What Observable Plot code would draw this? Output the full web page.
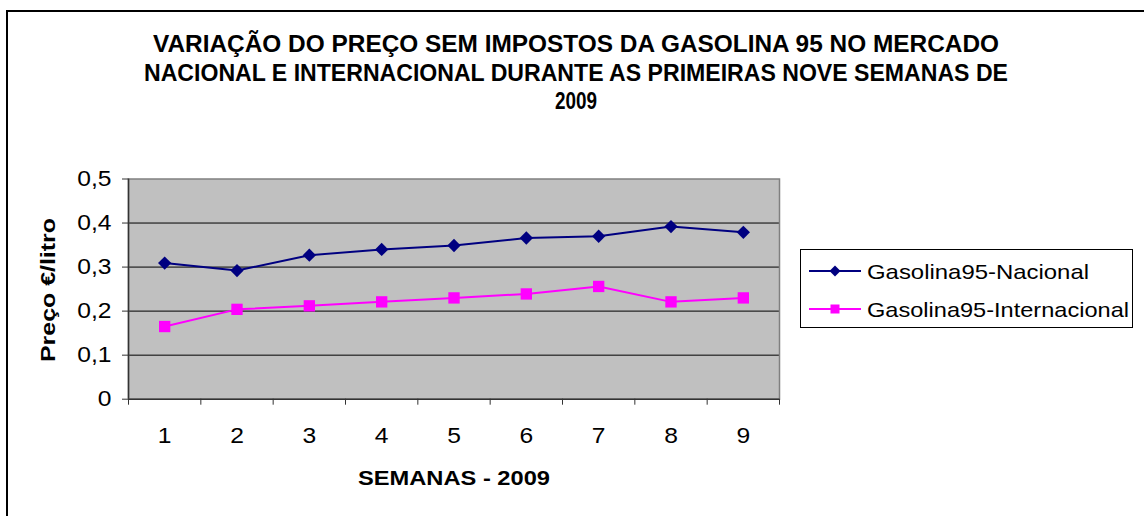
<!DOCTYPE html>
<html>
<head>
<meta charset="utf-8">
<script src="https://cdn.jsdelivr.net/npm/d3@7"></script>
<script src="https://cdn.jsdelivr.net/npm/@observablehq/plot@0.6"></script>
<style>
  html, body { margin: 0; padding: 0; background: #fff; }
  #chart { width: 1144px; height: 516px; overflow: hidden; }
</style>
</head>
<body>
<div id="chart"></div>
<script>
// ---- data ----
const weeks = [1, 2, 3, 4, 5, 6, 7, 8, 9];
const nacional = [0.309, 0.292, 0.327, 0.340, 0.349, 0.366, 0.370, 0.392, 0.379];
const internacional = [0.165, 0.204, 0.212, 0.221, 0.230, 0.239, 0.256, 0.221, 0.230];
const seriesNames = ["Gasolina95-Nacional", "Gasolina95-Internacional"];
const yTicks = [0, 0.1, 0.2, 0.3, 0.4, 0.5];
const titleLines = [
  "VARIAÇÃO DO PREÇO SEM IMPOSTOS DA GASOLINA 95 NO MERCADO",
  "NACIONAL E INTERNACIONAL DURANTE AS PRIMEIRAS NOVE SEMANAS DE",
  "2009"
];
const xTitle = "SEMANAS - 2009";
const yTitle = "Preço €/litro";

const colors = ["#000080", "#ff00ff"];
const rows = [];
weeks.forEach((w, i) => {
  rows.push({week: w, value: nacional[i], series: seriesNames[0]});
  rows.push({week: w, value: internacional[i], series: seriesNames[1]});
});
const boundaries = [weeks[0] - 0.5, ...weeks.map(w => w + 0.5)];

const diamond = {
  draw(ctx, size) {
    const h = Math.sqrt(size / 2);
    ctx.moveTo(0, -h); ctx.lineTo(h, 0); ctx.lineTo(0, h); ctx.lineTo(-h, 0); ctx.closePath();
  }
};
const fmt = d => d === 0 ? "0" : d.toFixed(1).replace(".", ",");

const W = 1144, H = 516;
const font = "Liberation Sans, Arial, sans-serif";
const svg = Plot.plot({
  width: W, height: H,
  marginLeft: 128, marginRight: W - 779, marginTop: 178.5, marginBottom: H - 398.7,
  style: {fontFamily: font, fontSize: "21px", background: "white", color: "#000"},
  x: {domain: [0.5, 9.5]},
  y: {domain: [0, 0.5]},
  marks: [
    Plot.frame({fill: "#c0c0c0"}),
    Plot.ruleY([0.1, 0.2, 0.3, 0.4], {stroke: "#000", strokeWidth: 1}),
    Plot.frame({stroke: "#808080", strokeWidth: 1.5}),
    Plot.ruleX([0.5], {stroke: "#333", strokeWidth: 1.5}),
    Plot.ruleY([0], {stroke: "#333", strokeWidth: 1.5}),
    Plot.axisY({ticks: yTicks, tickSize: 6, tickPadding: 11, tickFormat: fmt, label: null, stroke: "#333"}),
    Plot.axisX({ticks: boundaries, tickSize: 6, tickFormat: () => "", label: null, stroke: "#333"}),
    Plot.axisX({ticks: weeks, tickSize: 0, tickPadding: 28, label: null}),
    Plot.line(rows.filter(d => d.series === seriesNames[0]), {x: "week", y: "value", stroke: colors[0], strokeWidth: 2}),
    Plot.line(rows.filter(d => d.series === seriesNames[1]), {x: "week", y: "value", stroke: colors[1], strokeWidth: 2}),
    Plot.dot(rows.filter(d => d.series === seriesNames[0]), {x: "week", y: "value", symbol: diamond, r: 5.3, fill: colors[0], stroke: "none"}),
    Plot.dot(rows.filter(d => d.series === seriesNames[1]), {x: "week", y: "value", symbol: "square", r: 6.4, fill: colors[1], stroke: "none"})
  ]
});
document.getElementById("chart").appendChild(svg);

const s = d3.select(svg);
// enlarge tick labels (the original uses slightly wide Arial glyphs)
s.selectAll("g[aria-label$='tick label'] text").each(function () {
  const t = d3.select(this);
  t.style("font-size", "22px").attr("font-size", 22);
  const len = this.getComputedTextLength();
  if (len > 0) t.attr("textLength", len * 1.12).attr("lengthAdjust", "spacingAndGlyphs");
});

// outer border
s.append("rect").attr("x", 7).attr("y", 11).attr("width", W + 20).attr("height", H + 20)
  .attr("fill", "none").attr("stroke", "#000").attr("stroke-width", 2);

// title
const tSpec = [
  {y: 52, len: 846},
  {y: 81, len: 864},
  {y: 109, len: 42}
];
titleLines.forEach((t, i) => {
  s.append("text").attr("x", 576).attr("y", tSpec[i].y)
    .attr("text-anchor", "middle").attr("font-family", font).attr("font-weight", "bold")
    .attr("font-size", 23).attr("fill", "#000")
    .attr("textLength", tSpec[i].len).attr("lengthAdjust", "spacingAndGlyphs").text(t);
});

// axis titles
s.append("text").attr("x", 454).attr("y", 485).attr("text-anchor", "middle")
  .attr("font-family", font).attr("font-weight", "bold").attr("font-size", 21)
  .attr("textLength", 192).attr("lengthAdjust", "spacingAndGlyphs").text(xTitle);
s.append("text").attr("transform", "translate(55,290) rotate(-90)").attr("text-anchor", "middle")
  .attr("font-family", font).attr("font-weight", "bold").attr("font-size", 21)
  .attr("textLength", 144).attr("lengthAdjust", "spacingAndGlyphs").text(yTitle);

// legend
const lg = s.append("g");
lg.append("rect").attr("x", 800.5).attr("y", 249.5).attr("width", 332).attr("height", 78)
  .attr("fill", "#fff").attr("stroke", "#000").attr("stroke-width", 1);
const legendRows = [271, 309];
seriesNames.forEach((name, i) => {
  const y = legendRows[i];
  lg.append("line").attr("x1", 809).attr("x2", 861).attr("y1", y).attr("y2", y)
    .attr("stroke", colors[i]).attr("stroke-width", 2);
  if (i === 0) {
    lg.append("path").attr("d", `M835,${y - 5.5}L840.5,${y}L835,${y + 5.5}L829.5,${y}Z`).attr("fill", colors[i]);
  } else {
    lg.append("rect").attr("x", 830.5).attr("y", y - 4.5).attr("width", 9).attr("height", 9).attr("fill", colors[i]);
  }
  lg.append("text").attr("x", 867).attr("y", y).attr("dy", "0.36em").attr("text-anchor", "start")
    .attr("font-family", font).attr("font-size", 21).attr("fill", "#000")
    .attr("textLength", i === 0 ? 222 : 262).attr("lengthAdjust", "spacingAndGlyphs").text(name);
});
</script>
</body>
</html>
